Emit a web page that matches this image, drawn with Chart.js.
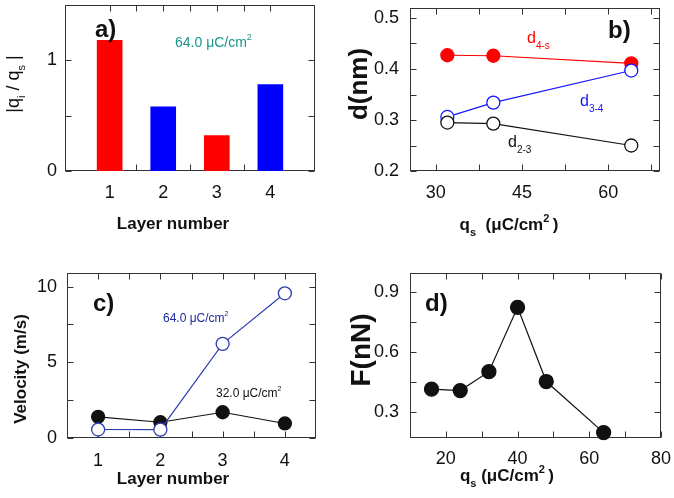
<!DOCTYPE html>
<html>
<head>
<meta charset="utf-8">
<script src="https://cdn.jsdelivr.net/npm/chart.js@4.4.1/dist/chart.umd.min.js"></script>
<style>
  body { margin: 0; background: #fff; }
  canvas { position: absolute; left: 0; top: 0; }
</style>
</head>
<body>
<canvas id="panelA" width="674" height="498"></canvas>
<canvas id="panelB" width="674" height="498"></canvas>
<canvas id="panelC" width="674" height="498"></canvas>
<canvas id="panelD" width="674" height="498"></canvas>
<script>
// ---- data ----
const layers = [1, 2, 3, 4];
const chargeRatio = [1.18, 0.58, 0.32, 0.78];          // a) |qi/qs| at 64 uC/cm2
const barColors = ['#ff0000', '#0000ff', '#ff0000', '#0000ff'];

const qsB = [32, 40, 64];                                // b) surface charge
const d4s = [0.427, 0.426, 0.411];
const d34 = [0.306, 0.334, 0.397];
const d23 = [0.295, 0.293, 0.250];

const vel64 = [0.56, 0.55, 6.22, 9.56];                 // c) velocity per layer
const vel32 = [1.40, 1.04, 1.70, 0.96];

const qsD = [16, 24, 32, 40, 48, 64];                    // d) friction force
const force = [0.416, 0.409, 0.503, 0.823, 0.454, 0.200];

// tick values (all marks) and the ones that get a label
const layerTicks = [1, 1.5, 2, 2.5, 3, 3.5, 4];
const layerLabels = [1, 2, 3, 4];
const ratioTicks = [0, 0.5, 1, 1.5];
const ratioLabels = [0, 1];
const qsBTicks = [30, 37.5, 45, 52.5, 60, 67.5];
const qsBLabels = [30, 45, 60];
const dTicks = [0.2, 0.25, 0.3, 0.35, 0.4, 0.45, 0.5];
const dLabels = [0.2, 0.3, 0.4, 0.5];
const velTicks = [0, 2.5, 5, 7.5, 10];
const velLabels = [0, 5, 10];
const qsDTicks = [20, 30, 40, 50, 60, 70, 80];
const qsDLabels = [20, 40, 60, 80];
const fTicks = [0.3, 0.45, 0.6, 0.75, 0.9];
const fLabels = [0.3, 0.6, 0.9];

const FONT = "'Liberation Sans', Arial, Helvetica, sans-serif";
Chart.defaults.font.family = FONT;
Chart.defaults.font.size = 18;
Chart.defaults.color = '#111';

const pts = (xs, ys) => xs.map((x, i) => ({ x, y: ys[i] }));

// text with sub/superscripts: parts = [[text, 0 normal | 1 sub | 2 sup], ...]
function drawRich(ctx, it) {
  const size = it.size, weight = it.weight || 'normal';
  const fontFor = m => `${weight} ${m ? Math.round(size * 0.62) : size}px ${FONT}`;
  ctx.save();
  ctx.translate(it.x, it.y);
  if (it.rotate) ctx.rotate(-Math.PI / 2);
  ctx.fillStyle = it.color || '#111';
  ctx.textBaseline = 'alphabetic';
  ctx.textAlign = 'left';
  let total = 0;
  it.parts.forEach(([t, m]) => { ctx.font = fontFor(m); total += ctx.measureText(t).width; });
  let cx = it.align === 'center' ? -total / 2 : 0;
  it.parts.forEach(([t, m]) => {
    ctx.font = fontFor(m);
    const dy = m === 1 ? size * 0.36 : m === 2 ? -size * 0.5 : 0;
    ctx.fillText(t, cx, dy);
    cx += ctx.measureText(t).width;
  });
  ctx.restore();
}

// box round the plot plus inward tick marks on all four sides
const framePlugin = {
  id: 'frame',
  beforeDatasetsDraw(chart) {
    const { ctx, chartArea: a, scales: { x, y } } = chart;
    const L = Math.round(a.left) + 0.5, R = Math.round(a.right) - 0.5;
    const T = Math.round(a.top) + 0.5, B = Math.round(a.bottom) - 0.5;
    ctx.save();
    ctx.strokeStyle = '#333';
    ctx.lineWidth = 1;
    ctx.strokeRect(L, T, R - L, B - T);
    ctx.beginPath();
    x.ticks.forEach(t => {
      const p = Math.round(x.getPixelForValue(t.value)) + 0.5;
      ctx.moveTo(p, B); ctx.lineTo(p, B - 6);
      ctx.moveTo(p, T); ctx.lineTo(p, T + 6);
    });
    y.ticks.forEach(t => {
      const p = Math.round(y.getPixelForValue(t.value)) + 0.5;
      ctx.moveTo(L, p); ctx.lineTo(L + 6, p);
      ctx.moveTo(R, p); ctx.lineTo(R - 6, p);
    });
    ctx.stroke();
    ctx.restore();
  }
};

function axis(min, max, all, labeled, pad) {
  return {
    type: 'linear', min, max,
    grid: { display: false, drawTicks: false },
    border: { display: false },
    afterBuildTicks: s => { s.ticks = all.map(v => ({ value: v })); },
    afterFit: s => {
      if (s.isHorizontal()) s.height = 40; else s.width = 60;
      // keep label overhang from moving the plot box
      s.paddingTop = s.paddingBottom = s.paddingLeft = s.paddingRight = 0;
    },
    ticks: { padding: pad, autoSkip: false, maxRotation: 0,
             callback: v => labeled.includes(v) ? String(v) : '' }
  };
}

// area = plot box in page pixels
function panel(id, type, area, datasets, xAxis, yAxis, texts) {
  return new Chart(document.getElementById(id), {
    type,
    data: { datasets },
    options: {
      responsive: false,
      animation: false,
      events: [],
      layout: { padding: { left: area.l - 60, top: area.t, right: 674 - area.r, bottom: 498 - area.b - 40 } },
      plugins: { legend: { display: false }, tooltip: { enabled: false } },
      scales: { x: xAxis, y: yAxis }
    },
    plugins: [framePlugin, { id: 'texts', afterDraw: c => texts.forEach(t => drawRich(c.ctx, t)) }]
  });
}

// a) charge ratio per layer
panel('panelA', 'bar', { l: 65, t: 5, r: 315, b: 171 },
  [{ data: pts(layers, chargeRatio), backgroundColor: barColors, borderWidth: 0, barThickness: 25 }],
  axis(0.5, 4.5, layerTicks, layerLabels, 11),
  axis(0, 1.5, ratioTicks, ratioLabels, 8),
  [
    { x: 95, y: 37, parts: [['a)', 0]], size: 24, weight: 'bold' },
    { x: 175, y: 47, parts: [['64.0 \u03bcC/cm', 0], ['2', 2]], size: 14, color: '#17968c' },
    { x: 19, y: 84, rotate: true, align: 'center', size: 18,
      parts: [['|q', 0], ['i', 1], [' / q', 0], ['s', 1], [' |', 0]] },
    { x: 173, y: 229, align: 'center', parts: [['Layer number', 0]], size: 17, weight: 'bold' }
  ]);

// b) interlayer distances
const circle = { pointRadius: 6.5, pointBorderWidth: 1.3, borderWidth: 1.2, clip: false };
panel('panelB', 'line', { l: 410, t: 5, r: 660, b: 171 },
  [
    { ...circle, data: pts(qsB, d23), borderColor: '#111', pointBorderColor: '#111', pointBackgroundColor: '#fff' },
    { ...circle, data: pts(qsB, d34), borderColor: '#1515ff', pointBorderColor: '#1515ff', pointBackgroundColor: '#fff' },
    { ...circle, data: pts(qsB, d4s), borderColor: '#ff0000', pointBorderColor: '#ff0000', pointBackgroundColor: '#ff0000' }
  ],
  axis(25.5, 69, qsBTicks, qsBLabels, 11),
  axis(0.2, 0.52, dTicks, dLabels, 11),
  [
    { x: 608, y: 38, parts: [['b)', 0]], size: 24, weight: 'bold' },
    { x: 527, y: 43, parts: [['d', 0], ['4-s', 1]], size: 16, color: '#ff0000' },
    { x: 580, y: 106, parts: [['d', 0], ['3-4', 1]], size: 16, color: '#1515ff' },
    { x: 508, y: 147, parts: [['d', 0], ['2-3', 1]], size: 16, color: '#111' },
    { x: 367, y: 84, rotate: true, align: 'center', parts: [['d(nm)', 0]], size: 26, weight: 'bold' },
    { x: 509, y: 230, align: 'center', size: 17, weight: 'bold',
      parts: [['q', 0], ['s', 1], ['  (\u03bcC/cm', 0], ['2', 2], ['\u2009)', 0]] }
  ]);

// c) velocity per layer
panel('panelC', 'line', { l: 67, t: 273, r: 316, b: 438 },
  [
    { ...circle, data: pts(layers, vel64), borderColor: '#2d3cb0', pointBorderColor: '#2d3cb0', pointBackgroundColor: '#fff' },
    { ...circle, data: pts(layers, vel32), borderColor: '#111', pointBorderColor: '#111', pointBackgroundColor: '#111' }
  ],
  axis(0.5, 4.5, layerTicks, layerLabels, 12),
  axis(0, 10.9, velTicks, velLabels, 10),
  [
    { x: 93, y: 311, parts: [['c)', 0]], size: 24, weight: 'bold' },
    { x: 163, y: 322, parts: [['64.0 \u03bcC/cm', 0], ['2', 2]], size: 12, color: '#1c2a9c' },
    { x: 216, y: 397, parts: [['32.0 \u03bcC/cm', 0], ['2', 2]], size: 12, color: '#111' },
    { x: 26, y: 369, rotate: true, align: 'center', parts: [['Velocity (m/s)', 0]], size: 17, weight: 'bold' },
    { x: 173, y: 484, align: 'center', parts: [['Layer number', 0]], size: 17, weight: 'bold' }
  ]);

// d) friction force vs surface charge
panel('panelD', 'line', { l: 410, t: 273, r: 661, b: 438 },
  [{ ...circle, pointRadius: 7, data: pts(qsD, force), borderColor: '#111', pointBorderColor: '#111', pointBackgroundColor: '#111' }],
  axis(10, 80, qsDTicks, qsDLabels, 10),
  axis(0.173, 0.994, fTicks, fLabels, 11),
  [
    { x: 425, y: 311, parts: [['d)', 0]], size: 24, weight: 'bold' },
    { x: 370, y: 350, rotate: true, align: 'center', parts: [['F(nN)', 0]], size: 28, weight: 'bold' },
    { x: 507, y: 481, align: 'center', size: 17, weight: 'bold',
      parts: [['q', 0], ['s', 1], [' (\u03bcC/cm', 0], ['2', 2], ['\u2009)', 0]] }
  ]);
</script>
</body>
</html>
